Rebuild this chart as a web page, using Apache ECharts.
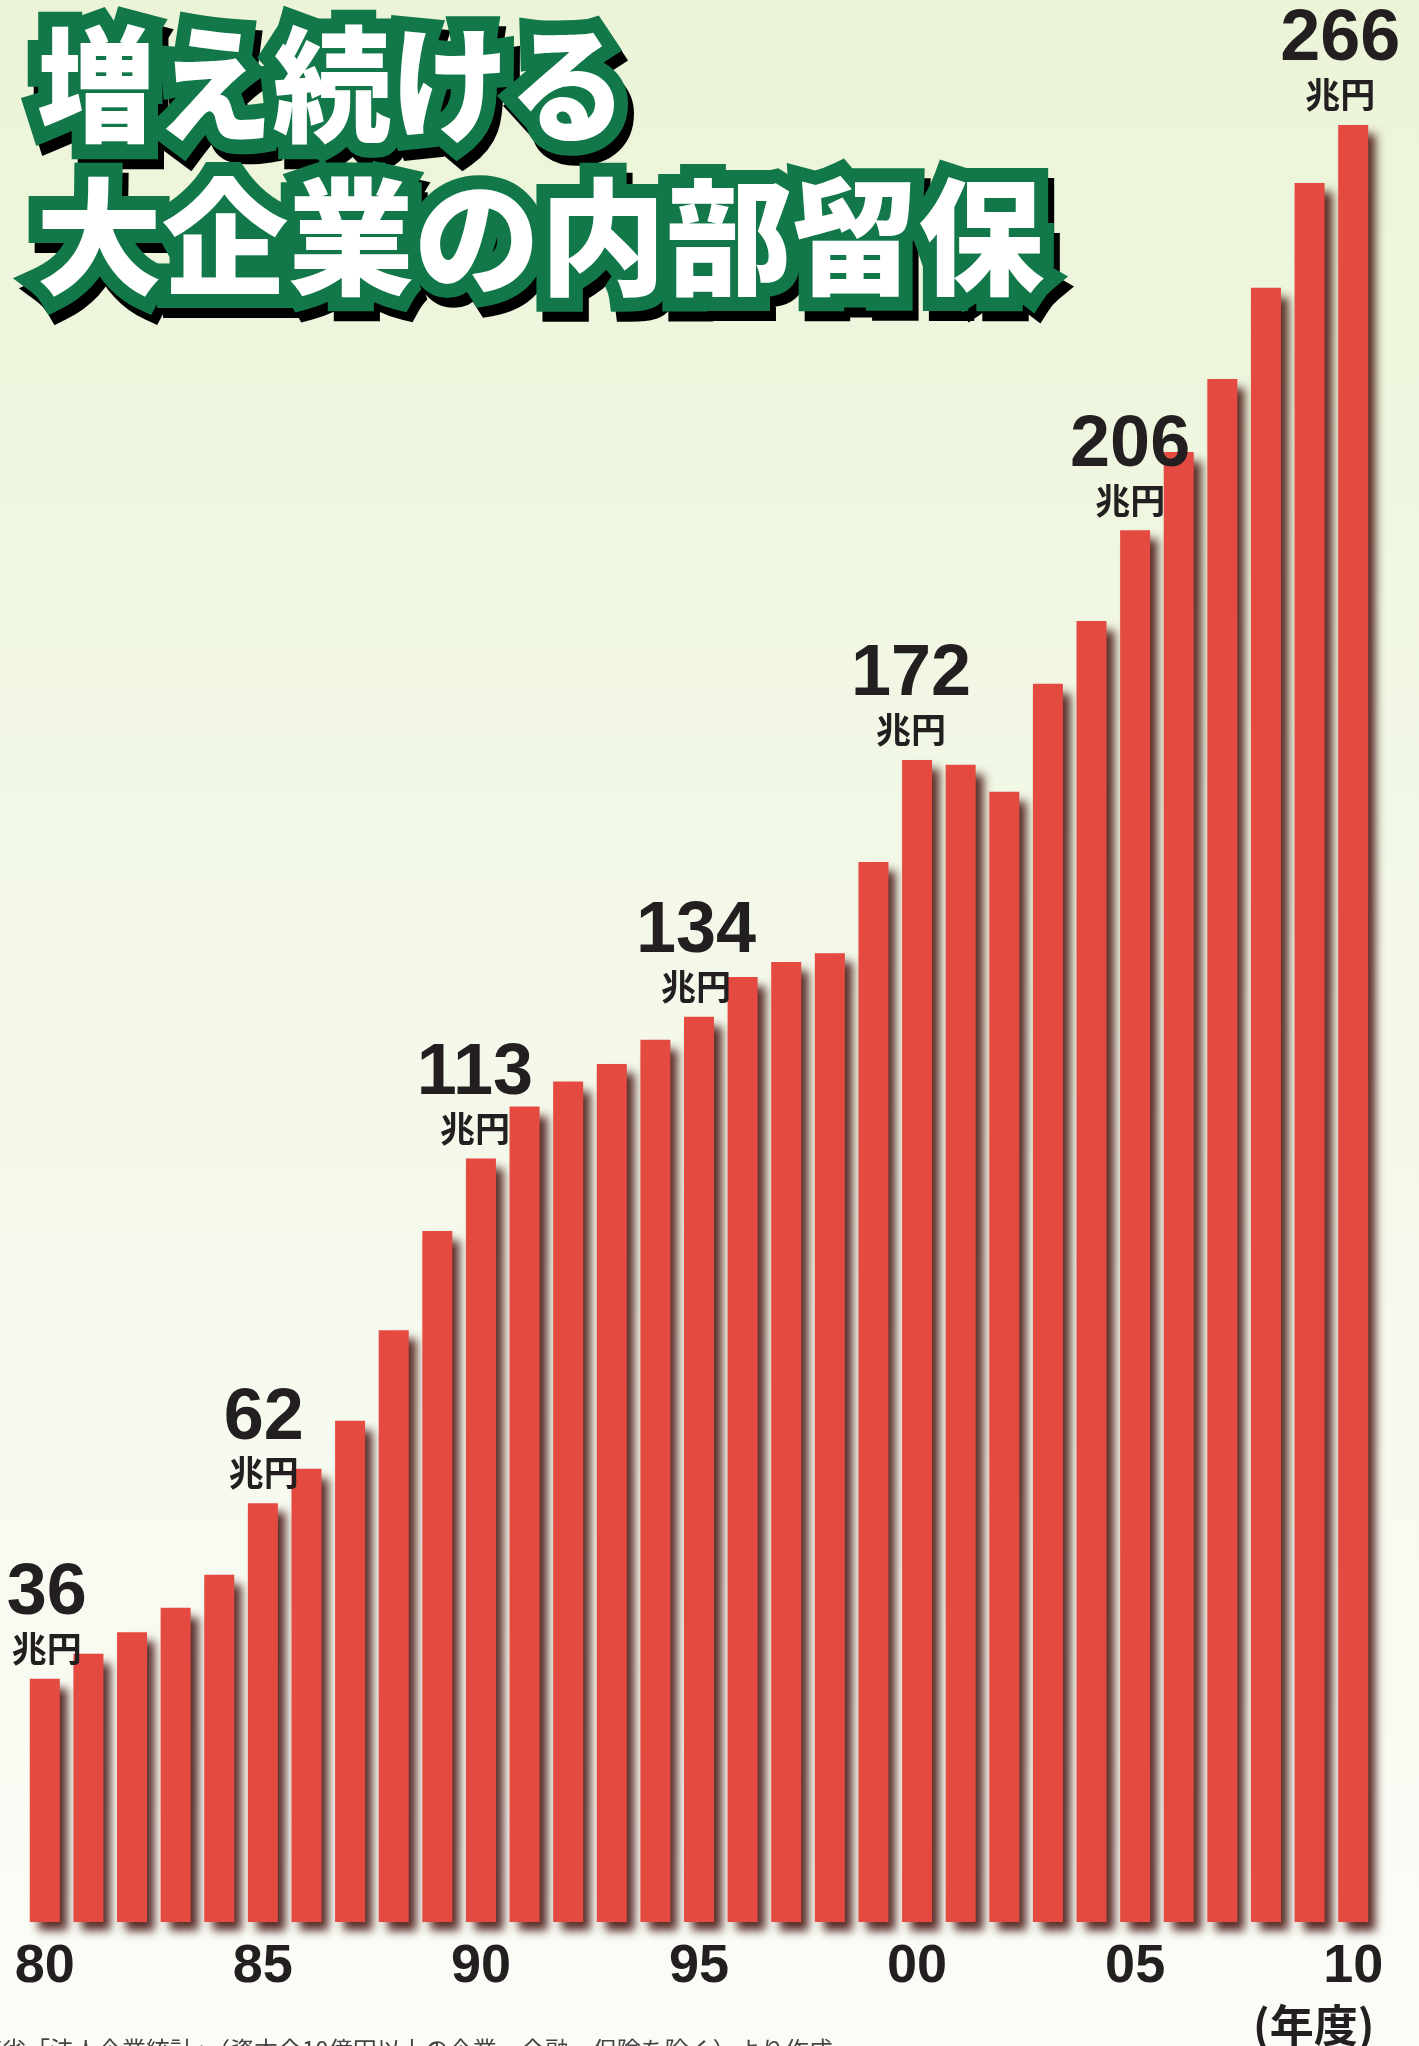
<!DOCTYPE html>
<html><head><meta charset="utf-8">
<script src="https://cdn.jsdelivr.net/npm/echarts@6/dist/echarts.min.js"></script>
<style>html,body{margin:0;padding:0;background:#f4f8ea;} #c{width:1419px;height:2046px;}</style>
</head><body><div id="c"></div>
<script>
// ---- data ----
const years = ['80','81','82','83','84','85','86','87','88','89',
               '90','91','92','93','94','95','96','97','98','99',
               '00','01','02','03','04','05','06','07','08','09','10'];
const values = [36, 39.7, 42.9, 46.5, 51.4, 62, 67.1, 74.2, 87.6, 102.3,
                113, 120.7, 124.4, 127.0, 130.6, 134, 139.9, 142.1, 143.4, 156.9,
                172, 171.3, 167.3, 183.3, 192.6, 206, 217.6, 228.4, 241.9, 257.4, 266];
const labeledYears = ['80','85','90','95','00','05','10'];
const unitText = '兆円';
const titleLine1 = '増え続ける';
const titleLine2 = '大企業の内部留保';
const axisUnitText = '(年度)';
const sourceText = '財務省「法人企業統計」（資本金10億円以上の企業、金融・保険を除く）より作成';

// ---- styling (label horizontal nudges, px) ----
const labelNudge = {'80': 2, '85': 1, '90': -6, '95': -3, '00': -6, '05': -5, '10': -13};

// ---- chart ----
const chart = echarts.init(document.getElementById('c'), null, {renderer:'canvas'});
const CJK = '"Noto Sans CJK JP", "Noto Sans CJK SC", sans-serif';
const GREEN = '#127849';

function titleLayers(text, x, y, size, sy) {
  const base = {text: text, fontSize: size, fontWeight: 900, fontFamily: CJK,
                align: 'left', verticalAlign: 'top'};
  return [
    {type:'text', x: x + 6, y: y + 10, scaleY: sy, z: 100,
     style: Object.assign({}, base, {fill:'#000', stroke:'#000', lineWidth: 28, lineJoin:'miter', miterLimit: 3})},
    {type:'text', x: x, y: y, scaleY: sy, z: 101,
     style: Object.assign({}, base, {fill: GREEN, stroke: GREEN, lineWidth: 28, lineJoin:'miter', miterLimit: 3})},
    {type:'text', x: x, y: y, scaleY: sy, z: 102,
     style: Object.assign({}, base, {fill:'#ffffff'})}
  ];
}

const seriesData = values.map(function(v, i){
  const y = years[i];
  if (labeledYears.indexOf(y) >= 0) {
    return {value: v, label: {offset: [labelNudge[y] || 0, 0]}};
  }
  return v;
});

const option = {
  animation: false,
  backgroundColor: {
    type:'linear', x:0, y:0, x2:0, y2:1,
    colorStops:[{offset:0,color:'#ebf4d7'},{offset:0.45,color:'#f3f8e8'},{offset:1,color:'#fbfcf7'}]
  },
  grid: {left: 23, right: 44, top: 98, bottom: 124, containLabel: false},
  xAxis: {
    type: 'category', data: years,
    axisLine: {show:false}, axisTick: {show:false},
    axisLabel: {
      interval: 4, margin: 17,
      fontFamily: '"Liberation Sans Narrow", "Liberation Sans", Arial, sans-serif',
      fontSize: 54, fontWeight: 'bold', color: '#231f20', lineHeight: 56
    }
  },
  yAxis: {type:'value', min:0, max:270, show:false, splitLine:{show:false}},
  series: [{
    type: 'bar',
    data: seriesData,
    barWidth: 30,
    itemStyle: {
      color: '#e54a41',
      shadowColor: 'rgba(70,20,15,0.9)', shadowBlur: 9, shadowOffsetX: 8, shadowOffsetY: 9
    },
    label: {
      show: true, position: 'top', distance: 10,
      formatter: function(p){
        if (labeledYears.indexOf(p.name) < 0) return '';
        return '{n|' + Math.round(p.value) + '}\n{u|' + unitText + '}';
      },
      rich: {
        n: {fontFamily:'"Liberation Sans", Arial, sans-serif', fontWeight:'bold', fontSize:72, lineHeight:69, color:'#231f20', align:'center'},
        u: {fontFamily: CJK, fontWeight:'bold', fontSize:35, lineHeight:40, color:'#231f20', align:'center'}
      }
    }
  }],
  graphic: {elements: [].concat(
    titleLayers(titleLine1, 37, 22, 118, 1.06),
    titleLayers(titleLine2, 36, 174, 126, 1.0),
    [
      {type:'text', x: 1253, y: 2003, z: 50,
       style:{text: axisUnitText, fontSize: 44, fontWeight:'bold', fontFamily: CJK, fill:'#231f20', align:'left', verticalAlign:'top'}},
      {type:'text', x: -46, y: 2038, z: 50,
       style:{text: sourceText, fontSize: 24, fontFamily: CJK, fill:'#444444', align:'left', verticalAlign:'top'}}
    ]
  )}
};
chart.setOption(option);
</script>
</body></html>
